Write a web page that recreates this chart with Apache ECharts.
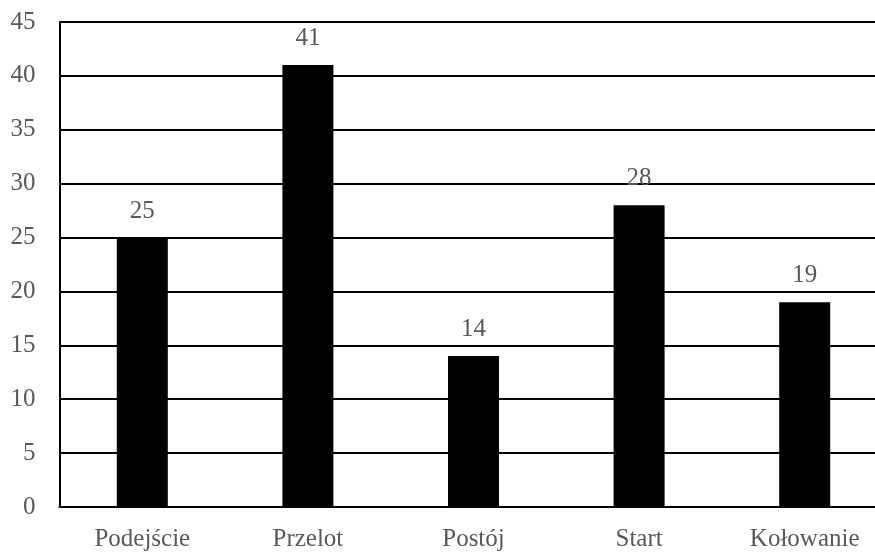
<!DOCTYPE html>
<html>
<head>
<meta charset="utf-8">
<script src="https://cdn.jsdelivr.net/npm/echarts@6/dist/echarts.min.js"></script>
<style>
  html, body { margin: 0; padding: 0; background: #fff; }
  #chart { width: 875px; height: 552px; }
</style>
</head>
<body>
<div id="chart"></div>
<script>
const categories = ['Podejście', 'Przelot', 'Postój', 'Start', 'Kołowanie'];
const values = [25, 41, 14, 28, 19];
const yTicks = [0, 5, 10, 15, 20, 25, 30, 35, 40, 45];

const font = '"Liberation Serif", "Times New Roman", serif';
const textColor = '#595959';

const chart = echarts.init(document.getElementById('chart'));
chart.setOption({
  animation: false,
  grid: {
    left: 59.5, top: 22, width: 828, height: 485,
    containLabel: false,
    outerBoundsMode: 'none'
  },
  xAxis: {
    type: 'category',
    data: categories,
    axisLine: { show: true, lineStyle: { color: '#000', width: 2 } },
    axisTick: { show: false },
    axisLabel: { color: textColor, fontFamily: font, fontSize: 25, margin: 20 }
  },
  yAxis: {
    type: 'value',
    min: yTicks[0],
    max: yTicks[yTicks.length - 1],
    interval: 5,
    axisLine: { show: true, lineStyle: { color: '#000', width: 2 } },
    axisTick: { show: false },
    axisLabel: { color: textColor, fontFamily: font, fontSize: 25, margin: 24 },
    splitLine: { show: true, lineStyle: { color: '#000', width: 2 } }
  },
  series: [{
    type: 'bar',
    data: values,
    barWidth: 51,
    itemStyle: { color: '#000' },
    label: {
      show: true,
      position: 'top',
      distance: 14,
      color: textColor,
      fontFamily: font,
      fontSize: 25
    }
  }]
});
</script>
</body>
</html>
